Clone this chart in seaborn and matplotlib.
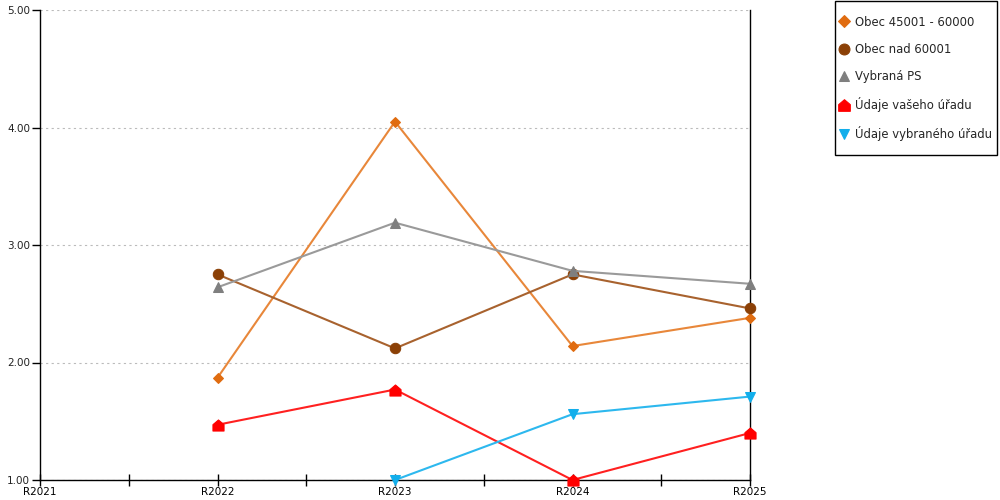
import numpy as np
import pandas as pd
import matplotlib
matplotlib.use("Agg")
import matplotlib.pyplot as plt
import seaborn as sns
from matplotlib.path import Path
from matplotlib.patches import Rectangle
from matplotlib.ticker import MultipleLocator, FixedLocator

years = [2021, 2022, 2023, 2024, 2025]
year_labels = ["R2021", "R2022", "R2023", "R2024", "R2025"]

obec_45001 = [np.nan, 1.87, 4.05, 2.14, 2.38]
obec_60001 = [np.nan, 2.75, 2.12, 2.75, 2.46]
vybrana_ps = [np.nan, 2.64, 3.19, 2.78, 2.67]
vas_urad = [np.nan, 1.47, 1.77, 1.00, 1.40]
vybrany_urad = [np.nan, np.nan, 1.00, 1.56, 1.71]

house = Path([(-1, -1), (1, -1), (1, 0.15), (0, 1), (-1, 0.15), (-1, -1)],
             [Path.MOVETO, Path.LINETO, Path.LINETO, Path.LINETO, Path.LINETO, Path.CLOSEPOLY])

series = [
    ("Obec 45001 - 60000", obec_45001, "#E8873A", "#E06C10", "D", 5.5),
    ("Obec nad 60001", obec_60001, "#A8622E", "#8B4006", "o", 7.5),
    ("Vybraná PS", vybrana_ps, "#9A9A9A", "#7F7F7F", "^", 7.5),
    ("Údaje vašeho úřadu", vas_urad, "#FF2020", "#FF0000", house, 8),
    ("Údaje vybraného úřadu", vybrany_urad, "#2DB8EE", "#12AEEB", "v", 7.5),
]

sns.set_style("white")
plt.rcParams["font.family"] = ["DejaVu Sans"]

fig = plt.figure(figsize=(10, 5), dpi=100)
ax = fig.add_axes([0.04, 0.04, 0.71, 0.94])

for name, vals, lc, mc, mk, ms in series:
    df = pd.DataFrame({"year": years, "value": vals}).dropna()
    sns.lineplot(data=df, x="year", y="value", ax=ax, color=lc, linewidth=1.5,
                 marker=mk, markersize=ms, markerfacecolor=mc, markeredgecolor=mc,
                 label=name, zorder=3, clip_on=False)

ax.set_xlim(2021, 2025)
ax.set_ylim(1, 5)
ax.set_xticks(years)
ax.set_xticklabels(year_labels)
ax.xaxis.set_minor_locator(FixedLocator([2021.5, 2022.5, 2023.5, 2024.5]))
ax.yaxis.set_major_locator(MultipleLocator(1))
ax.yaxis.set_major_formatter(plt.FuncFormatter(lambda v, p: f"{v:.2f}"))
ax.set_xlabel("")
ax.set_ylabel("")

ax.grid(axis="y", color="#BBBBBB", linestyle=(0, (2, 3)), linewidth=0.8)
ax.set_axisbelow(True)

ax.spines["top"].set_visible(False)
for s in ["left", "bottom", "right"]:
    ax.spines[s].set_color("black")
    ax.spines[s].set_linewidth(1)

ax.tick_params(axis="x", which="both", bottom=True, direction="inout", length=8,
               width=1, colors="black", labelsize=7.5, pad=1)
ax.tick_params(axis="y", left=True, direction="out", length=6, width=1,
               colors="black", labelsize=7.5, pad=1)
ax.tick_params(axis="y", labelcolor="#222222")

# legend box drawn separately so the padding matches the reference
fig.patches.append(Rectangle((0.835, 0.69), 0.162, 0.308, transform=fig.transFigure,
                             fill=False, edgecolor="black", linewidth=1))
leg = ax.legend(loc="upper left", bbox_to_anchor=(0.840, 0.969),
                bbox_transform=fig.transFigure, frameon=False, fontsize=8.4,
                handlelength=0.6, handletextpad=0.7, labelspacing=1.22,
                borderpad=0, borderaxespad=0, markerscale=1.05)
for h in leg.legend_handles:
    h.set_linestyle("None")

fig.savefig("out.png", dpi=100)
